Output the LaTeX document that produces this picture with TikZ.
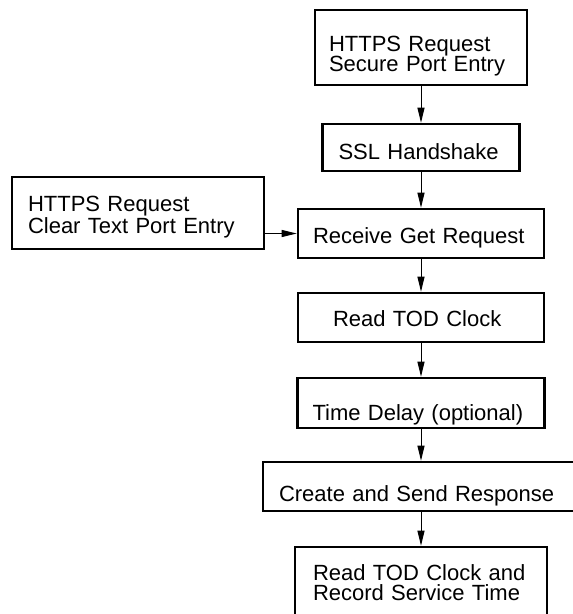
\documentclass[tikz,border=0pt]{standalone}
\usepackage{fontspec}
\setmainfont{Liberation Sans}
\usetikzlibrary{arrows.meta, positioning}
\tikzset{
  flowbox/.style={
    draw, line width=2.6pt, inner ysep=0pt, align=left,
    text depth=0pt, font=\fontsize{22}{20}\selectfont
  },
  arrow/.style={-{Triangle[length=15pt, width=7pt]}, line width=1pt}
}

\begin{document}
\begin{tikzpicture}[x=1pt, y=-1pt]
  \useasboundingbox (0,0) rectangle (573,614);
  \clip (0,0) rectangle (573,614);
  \fill[white] (0,0) rectangle (573,614);
  % main column
  \node[flowbox, minimum height=75pt, inner xsep=14pt, text width=184pt, text height=8.4pt] (secure) at (421,47.5) {HTTPS Request\\Secure Port Entry};
  \node[flowbox, minimum height=47pt, inner xsep=16pt, text width=165pt, text height=23.6pt] (ssl) at (421,147.5) {SSL Handshake};
  \node[flowbox, minimum height=49pt, inner xsep=15pt, text width=216pt, text height=19.6pt] (recv) at (421,233.5) {Receive Get Request};
  \node[flowbox, minimum height=49pt, inner xsep=35pt, text width=176pt, text height=18.4pt] (tod) at (421,317.5) {Read TOD Clock};
  \node[flowbox, minimum height=50pt, inner xsep=15pt, text width=217pt, text height=34pt] (delay) at (421,403) {Time Delay (optional)};
  \node[flowbox, minimum height=49pt, inner xsep=16pt, text width=284pt, text height=30.4pt] (create) at (421,486.5) {Create and Send Response};
  \node[flowbox, minimum height=75pt, inner xsep=18pt, text width=216pt, text height=0pt, text depth=9pt] (record) at (421,584.5) {Read TOD Clock and\\Record Service Time};
  % clear text entry
  \node[flowbox, minimum height=72pt, inner xsep=16pt, text width=220pt, text height=0pt, text depth=2.6pt, font=\fontsize{22}{21.5}\selectfont] (clear) at (138,213) {HTTPS Request\\Clear Text Port Entry};
  \draw[arrow] (secure) -- (ssl);
  \draw[arrow] (ssl) -- (recv);
  \draw[arrow] (clear.east |- recv.west) -- (recv.west);
  \draw[arrow] (recv) -- (tod);
  \draw[arrow] (tod) -- (delay);
  \draw[arrow] (delay) -- (create);
  \draw[arrow] (create) -- (record);
\end{tikzpicture}
\end{document}
